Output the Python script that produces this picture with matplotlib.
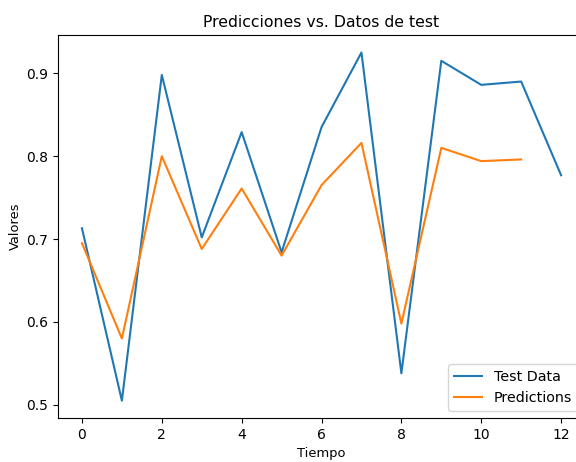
import numpy as np
import matplotlib.pyplot as plt

# valores
tiempo_test = list(range(13))
test_data = [0.713, 0.505, 0.898, 0.702, 0.829, 0.684, 0.835, 0.925,
             0.538, 0.915, 0.886, 0.890, 0.777]
tiempo_pred = list(range(12))
predictions = [0.695, 0.580, 0.800, 0.688, 0.761, 0.680, 0.765, 0.816,
               0.598, 0.810, 0.794, 0.796]

plt.rcParams['font.size'] = 10

fig = plt.figure(figsize=(5.76, 4.62), dpi=100)
ax = fig.add_axes([0.1007, 0.095, 0.915, 0.829])

ax.plot(tiempo_test, test_data, label="Test Data")
ax.plot(tiempo_pred, predictions, label="Predictions")

ax.set_title("Predicciones vs. Datos de test", fontsize=11.3)
ax.set_xlabel("Tiempo", fontsize=9.4, labelpad=4)
ax.set_ylabel("Valores", fontsize=9.4, labelpad=3)
ax.set_xticks([0, 2, 4, 6, 8, 10, 12])
ax.legend(loc="lower right", fontsize=10.3)

fig.savefig("out.png", dpi=100)
